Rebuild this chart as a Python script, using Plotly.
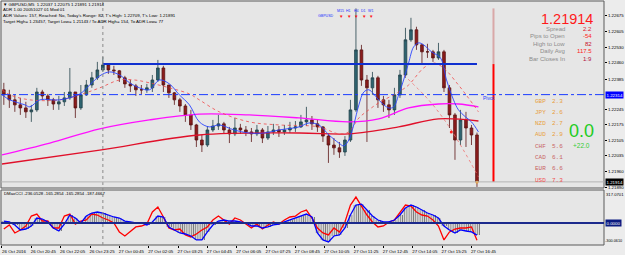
import plotly.graph_objects as go

W, H = 625, 255
ML, MR, MT, MB = 1, 19, 1, 10
PW, PH = W - ML - MR, H - MT - MB


def fx(px):
    return (px - ML) / PW


def fy(py):
    return (H - MB - py) / PH


# ---------------- data ----------------
symbol = "GBPUSD,M5"
last_bar = [1.22037, 1.22075, 1.21891, 1.21914]  # O H L C of the live bar
first_open = 1.22336

close = [1.22313, 1.22290, 1.22267, 1.22253, 1.22235, 1.22244, 1.22326, 1.22308, 1.22290, 1.22271,
         1.22281, 1.22299, 1.22326, 1.22253, 1.22313, 1.22358, 1.22391, 1.22427, 1.22450, 1.22427,
         1.22423, 1.22391, 1.22363, 1.22354, 1.22336, 1.22336, 1.22345, 1.22381, 1.22436, 1.22358,
         1.22322, 1.22290, 1.22262, 1.22221, 1.22175, 1.22106, 1.22083, 1.22152, 1.22170, 1.22180,
         1.22152, 1.22134, 1.22161, 1.22152, 1.22143, 1.22134, 1.22152, 1.22115, 1.22143, 1.22152,
         1.22143, 1.22152, 1.22161, 1.22166, 1.22189, 1.22198, 1.22180, 1.22166, 1.22124, 1.22083,
         1.22070, 1.22051, 1.22106, 1.22244, 1.22519, 1.22381, 1.22345, 1.22391, 1.22290, 1.22267,
         1.22244, 1.22313, 1.22404, 1.22565, 1.22611, 1.22542, 1.22510, 1.22510, 1.22482, 1.22510,
         1.22345, 1.22221, 1.22106, 1.22198, 1.22161, 1.22129, 1.21914]
high = [1.22368, 1.22336, 1.22313, 1.22299, 1.22281, 1.22267, 1.22345, 1.22336, 1.22317, 1.22299,
        1.22308, 1.22326, 1.22436, 1.22326, 1.22358, 1.22381, 1.22418, 1.22464, 1.22487, 1.22455,
        1.22446, 1.22427, 1.22400, 1.22381, 1.22363, 1.22358, 1.22363, 1.22404, 1.22473, 1.22446,
        1.22358, 1.22326, 1.22299, 1.22271, 1.22244, 1.22180, 1.22129, 1.22170, 1.22198, 1.22221,
        1.22189, 1.22166, 1.22207, 1.22180, 1.22170, 1.22161, 1.22175, 1.22161, 1.22170, 1.22180,
        1.22170, 1.22175, 1.22189, 1.22193, 1.22221, 1.22258, 1.22216, 1.22198, 1.22170, 1.22134,
        1.22115, 1.22097, 1.22124, 1.22290, 1.22709, 1.22542, 1.22404, 1.22418, 1.22400, 1.22308,
        1.22290, 1.22345, 1.22427, 1.22620, 1.22666, 1.22625, 1.22547, 1.22547, 1.22519, 1.22551,
        1.22519, 1.22358, 1.22230, 1.22244, 1.22235, 1.22175, 1.22140]
low = [1.22267, 1.22253, 1.22235, 1.22221, 1.22207, 1.22189, 1.22235, 1.22290, 1.22262, 1.22244,
       1.22244, 1.22262, 1.22290, 1.22207, 1.22244, 1.22308, 1.22345, 1.22381, 1.22418, 1.22409,
       1.22404, 1.22372, 1.22345, 1.22326, 1.22308, 1.22317, 1.22322, 1.22326, 1.22372, 1.22326,
       1.22299, 1.22267, 1.22235, 1.22189, 1.22152, 1.22074, 1.22051, 1.22074, 1.22143, 1.22152,
       1.22134, 1.22092, 1.22124, 1.22134, 1.22124, 1.22097, 1.22124, 1.22092, 1.22106, 1.22129,
       1.22120, 1.22129, 1.22138, 1.22143, 1.22161, 1.22170, 1.22152, 1.22143, 1.22097, 1.22001,
       1.22038, 1.22024, 1.22033, 1.22097, 1.22235, 1.22354, 1.22097, 1.22313, 1.22253, 1.22235,
       1.22207, 1.22221, 1.22299, 1.22391, 1.22556, 1.22519, 1.22459, 1.22482, 1.22464, 1.22473,
       1.22326, 1.22161, 1.22015, 1.22083, 1.22074, 1.22083, 1.21891]
bar_x = [3 * k + 1 for k in range(len(close))]          # bar index (M5 bars)
opens = [first_open] + close[:-1]

fast_ma_x = [0, 4.3, 12.5, 15.2, 20.7, 31.5, 42.4, 47.8, 53.3, 58.7, 64.1, 69.6, 75, 80.4, 85.9, 91.3,
             96.7, 102.2, 107.6, 113, 118.5, 126.6, 134.8, 142.9, 151.1, 162, 167.4, 172.8, 178.3,
             183.7, 186.4, 189.1, 191.8, 194.6, 197.3, 200, 202.7, 205.4, 210.9, 213.6, 216.3, 219,
             221.7, 224.5, 227.2, 229.9, 234.2, 239.1, 242.4, 246.2, 248.9, 252.7, 256, 259.8]
fast_ma = [1.22313, 1.22290, 1.22267, 1.22258, 1.22290, 1.22290, 1.22317, 1.22358, 1.22400, 1.22418,
           1.22404, 1.22368, 1.22345, 1.22336, 1.22381, 1.22363, 1.22313, 1.22267, 1.22189, 1.22166,
           1.22175, 1.22152, 1.22138, 1.22138, 1.22152, 1.22166, 1.22184, 1.22175, 1.22129, 1.22092,
           1.22079, 1.22106, 1.22175, 1.22267, 1.22326, 1.22336, 1.22317, 1.22290, 1.22253, 1.22258,
           1.22313, 1.22381, 1.22459, 1.22533, 1.22551, 1.22542, 1.22510, 1.22482, 1.22381, 1.22290,
           1.22244, 1.22212, 1.22189, 1.22143]

slow_ma_x = [0, 4.3, 15.2, 31.5, 42.4, 53.3, 64.1, 72.3, 80.4, 91.3, 102.2, 107.6, 118.5, 134.8, 151.1,
             172.8, 183.7, 189.1, 194.6, 200, 205.4, 216.3, 221.7, 229.9, 235.3, 240.8, 248.9, 254.3, 259.8]
slow_ma = [1.22336, 1.22313, 1.22290, 1.22290, 1.22313, 1.22345, 1.22381, 1.22381, 1.22368, 1.22345,
           1.22317, 1.22290, 1.22235, 1.22189, 1.22175, 1.22166, 1.22134, 1.22143, 1.22207, 1.22244,
           1.22276, 1.22326, 1.22358, 1.22436, 1.22459, 1.22436, 1.22358, 1.22299, 1.22235]

band_x = [219, 232.6, 242.4, 251.6, 259.8]
band = [1.22404, 1.22290, 1.22184, 1.22060, 1.21937]

ma_magenta_x = [0, 26.1, 53.3, 80.4, 107.6, 134.8, 162, 189.1, 205.4, 221.7, 238, 248.9, 259.8]
ma_magenta = [1.22038, 1.22092, 1.22157, 1.22198, 1.22225, 1.22221, 1.22207, 1.22189, 1.22203,
              1.22253, 1.22271, 1.22271, 1.22258]
ma_red_x = [0, 53.3, 107.6, 162, 189.1, 216.3, 238, 259.8]
ma_red = [1.21996, 1.22060, 1.22129, 1.22138, 1.22134, 1.22166, 1.22203, 1.22193]

day_open = 1.22454
day_high = 1.22709
day_low = 1.21891
pivot = 1.22314
midnight_bar = 55
cur_bar = 259
adr_bar = 268
signal_dot = [245, 1.22143]

cci_fast = [-82, -27, -136, -95, -41, 95, 122, 27, 27, -68,
            -68, 95, 122, -14, 27, 41, 122, 109, 68, 41,
            0, -122, -177, -109, -54, -41, -14, 150, 218, 82,
            -68, -95, -82, -163, -190, -150, -95, -54, 41, 95,
            41, -14, 68, 41, -14, -68, -14, -82, -27, 14,
            -14, 41, 82, 95, 150, 177, 68, -68, -136, -163,
            -68, -122, 14, 245, 354, 231, 109, 14, -54, -41,
            14, 41, 150, 245, 231, 150, 109, 95, 41, -41,
            -231, -122, -82, -68, -68, -54, -236]
cci_slow = [27, 14, -27, -95, -82, -41, 68, 54, 14, -68,
            -109, -14, 109, 68, 0, 95, 136, 150, 136, 109,
            82, 68, 27, 14, 0, 0, -27, 14, 95, 82,
            -54, -95, -136, -150, -177, -231, -231, -122, -27, 27,
            41, 27, 27, 14, 0, -41, -41, -68, -54, -27,
            -14, 14, 41, 68, 95, 122, 82, -136, -231, -258,
            -177, -163, -68, 109, 245, 258, 177, 95, 41, 14,
            14, 41, 109, 204, 245, 218, 177, 136, 109, 68,
            -41, -95, -136, -95, -109, -122, -165]
cci_title = "DMaxCCI -236.0528 -165.2854 -165.2854 -187.4667"
cci_top_label, cci_bottom_label = "317.0701", "-300.0610"

time_ticks = [0, 16, 32, 48, 64, 80, 96, 112, 128, 144, 160, 176, 192, 208, 224, 240, 256]
time_labels = ["26 Oct 2016", "26 Oct 20:45", "26 Oct 22:05", "26 Oct 23:25", "27 Oct 00:45",
               "27 Oct 02:05", "27 Oct 03:25", "27 Oct 04:45", "27 Oct 06:05", "27 Oct 07:25",
               "27 Oct 08:45", "27 Oct 10:05", "27 Oct 11:25", "27 Oct 12:45", "27 Oct 14:05",
               "27 Oct 15:25", "27 Oct 16:45"]
price_ticks = [1.22675, 1.22605, 1.22530, 1.22460, 1.22385, 1.22245, 1.22175, 1.22105,
               1.22035, 1.21960, 1.21890]

header_lines = [
    "ADR 1.00 20051027 01 Mod 01",
    "ADR Values: 157, Reached: No, Today's Range: 82, T's High: 1.22709, T's Low: 1.21891",
    "Target High= 1.23457, Target Low= 1.21143 / To ADR High= 154, To ADR Low= 77",
]
info_labels = ["Spread", "Pips to Open", "High to Low", "Daily Avg", "Bar Closes In"]
info_values = ["2.2", "-54", "82", "117.5", "1:9"]
currencies = ["GBP", "JPY", "NZD", "AUD", "CHF", "CAD", "EUR", "USD"]
strength = [2.3, 2.6, 2.7, 2.9, 5.6, 6.1, 6.6, 7.3]
tf_labels = ["M15", "H1", "H4", "D1", "W1"]
score_main, score_delta = "0.0", "+22.0"

# ---------------- figure ----------------
FONT = "Liberation Sans"
fig = go.Figure()

# CCI histogram (thin grey hatch)
fig.add_trace(go.Bar(
    x=bar_x, y=cci_slow, xaxis="x", yaxis="y2", width=3,
    marker=dict(color="rgba(0,0,0,0)", line_width=0,
                pattern=dict(shape="|", size=2.2, solidity=0.45, fgcolor="#7c7c7c",
                             bgcolor="rgba(0,0,0,0)", fillmode="replace")),
))
fig.add_trace(go.Scatter(x=bar_x, y=cci_fast, xaxis="x", yaxis="y2", mode="lines",
                         line=dict(color="#ff0000", width=1.3)))
fig.add_trace(go.Scatter(x=bar_x, y=cci_slow, xaxis="x", yaxis="y2", mode="lines",
                         line=dict(color="#0000ff", width=1.3)))

# moving averages
fig.add_trace(go.Scatter(x=ma_red_x, y=ma_red, mode="lines", line=dict(color="#e0102a", width=1.3, shape="spline")))
fig.add_trace(go.Scatter(x=ma_magenta_x, y=ma_magenta, mode="lines", line=dict(color="#ff10ff", width=1.3, shape="spline")))
fig.add_trace(go.Scatter(x=slow_ma_x, y=slow_ma, mode="lines", line=dict(color="#f04848", width=0.8, dash="dot", shape="spline")))
fig.add_trace(go.Scatter(x=band_x, y=band, mode="lines", line=dict(color="#f07070", width=0.8, dash="dot", shape="spline")))

# candles
fig.add_trace(go.Candlestick(
    x=bar_x, open=opens, high=high, low=low, close=close,
    increasing=dict(line=dict(color="#23434b", width=0.8), fillcolor="#2e6470"),
    decreasing=dict(line=dict(color="#5a1414", width=0.8), fillcolor="#8c1c1c"),
    whiskerwidth=0,
))
fig.add_trace(go.Scatter(x=fast_ma_x, y=fast_ma, mode="lines", line=dict(color="#2a44ff", width=0.9, shape="spline")))

# day-open level and daily range bar
fig.add_trace(go.Scatter(x=[midnight_bar, cur_bar], y=[day_open, day_open], mode="lines",
                         line=dict(color="#1030d0", width=2)))
fig.add_trace(go.Scatter(x=[adr_bar, adr_bar], y=[day_high, day_open], mode="lines",
                         line=dict(color="#d9a8a8", width=2)))
fig.add_trace(go.Scatter(x=[adr_bar, adr_bar], y=[day_open, last_bar[3]], mode="lines",
                         line=dict(color="#ff0000", width=2)))
fig.add_trace(go.Scatter(x=[signal_dot[0]], y=[signal_dot[1]], mode="markers",
                         marker=dict(color="#ff2020", size=3)))
fig.add_trace(go.Scatter(x=[cur_bar], y=[last_bar[3]], mode="markers",
                         marker=dict(color="#ffa020", size=3)))

shapes = [
    dict(type="rect", xref="x domain", yref="y domain", x0=0, x1=1, y0=0, y1=1,
         line=dict(color="#5a5a5a", width=1)),
    dict(type="rect", xref="x domain", yref="y2 domain", x0=0, x1=1, y0=0, y1=1,
         line=dict(color="#5a5a5a", width=1)),
    dict(type="line", xref="x", yref="paper", x0=midnight_bar, x1=midnight_bar, y0=0, y1=1,
         line=dict(color="#8a8a8a", width=1, dash="dot")),
    dict(type="line", xref="x domain", yref="y", x0=0, x1=1, y0=pivot, y1=pivot,
         line=dict(color="#1a3cff", width=1, dash="dashdot")),
    dict(type="line", xref="x domain", yref="y", x0=0, x1=1, y0=last_bar[3], y1=last_bar[3],
         line=dict(color="#b4b4b4", width=1)),
    dict(type="line", xref="x domain", yref="y2", x0=0, x1=1, y0=0, y1=0,
         line=dict(color="#1c2a8c", width=2)),
]

ann = []


def txt(text, px, py, size, color="#000000", anchor="left", family=FONT, yanchor="middle", **kw):
    ann.append(dict(text=text, x=fx(px), y=fy(py), xref="paper", yref="paper", showarrow=False,
                    xanchor=anchor, yanchor=yanchor, font=dict(size=size, color=color, family=family),
                    borderpad=0, **kw))


txt("▼ " + symbol + "  " + " ".join(f"{v:.5f}" for v in last_bar), 2, 4.5, 4.4)
for i, line in enumerate(header_lines):
    txt(line, 2, 10 + i * 5.6, 4.4)
txt(cci_title, 3, 194, 4.3)

txt(symbol.split(",")[0], 336, 16.5, 3.6, color="#2030ff", anchor="right")
for i, lab in enumerate(tf_labels):
    cx = [342, 350, 357.5, 365, 372][i]
    txt(lab, cx, 11, 3.6, color="#2030ff", anchor="center")
    txt("▼", cx, 16.5, 4.5, color="#ff1010", anchor="center")

ann.append(dict(text="Pivot", x=261.5, y=pivot, xref="x", yref="y", showarrow=False, xanchor="left",
                yanchor="top", yshift=1, font=dict(size=5, color="#1a3cff", family=FONT), borderpad=0))

txt(f"{last_bar[3]:.5f}", 596, 19, 14.5, color="#ff1a1a", anchor="right")
val_colors = ["#e0102a", "#ff2020", "#c8102a", "#ff2020", "#b01040"]
for i, (lab, val) in enumerate(zip(info_labels, info_values)):
    y = 29 + i * 7.5
    txt(lab, 568, y, 6, color="#8c8c8c", anchor="right")
    txt(val, 595, y, 6, color=val_colors[i], anchor="right")

cur_colors = ["#e8a040", "#e8a040", "#e8a040", "#e8a040", "#c86464", "#c86464", "#c86464", "#f05050"]
for i, (c, s) in enumerate(zip(currencies, strength)):
    y = 101 + i * 11.3
    txt(c, 536, y, 6, color=cur_colors[i], family="Liberation Mono")
    txt(f"{s:.1f}", 553, y, 6, color=cur_colors[i], family="Liberation Mono")
txt(score_main, 583.5, 131, 18, color="#22cc22", anchor="center")
txt(score_delta, 583.5, 145.5, 6.5, color="#33cc33", anchor="center")

for val, yref, bg, label in [(pivot, "y", "#0000ff", f"{pivot:.5f}"),
                             (last_bar[3], "y", "#000000", f"{last_bar[3]:.5f}"),
                             (0, "y2", "#0a1a80", "0.0000")]:
    ann.append(dict(text=label, x=1, y=val, xref="paper", yref=yref, showarrow=False,
                    xanchor="left", yanchor="middle", xshift=1, bgcolor=bg,
                    font=dict(size=4.4, color="#ffffff", family=FONT), borderpad=0.5))
ann.append(dict(text=cci_top_label, x=1, y=1, xref="paper", yref="y2 domain", showarrow=False,
                xanchor="left", yanchor="top", xshift=1, yshift=-1,
                font=dict(size=4.2, color="#000000", family=FONT), borderpad=0))
ann.append(dict(text=cci_bottom_label, x=1, y=0, xref="paper", yref="y2 domain", showarrow=False,
                xanchor="left", yanchor="bottom", xshift=0, yshift=1,
                font=dict(size=3.8, color="#000000", family=FONT), borderpad=0))

fig.update_layout(
    width=W, height=H,
    margin=dict(l=ML, r=MR, t=MT, b=MB, pad=0),
    paper_bgcolor="#ececec", plot_bgcolor="#e6e6e6",
    showlegend=False, hovermode=False, bargap=0,
    shapes=shapes, annotations=ann,
    xaxis=dict(range=[-0.54, 328.26], domain=[0, 1], anchor="y2", rangeslider=dict(visible=False),
               tickvals=time_ticks, ticktext=time_labels, ticks="outside", ticklen=2,
               tickcolor="#000000", tickfont=dict(size=4.4, color="#000000", family=FONT),
               ticklabelshift=12, ticklabelstandoff=0, showgrid=False, zeroline=False, showline=False),
    yaxis=dict(domain=[fy(188), 1], range=[1.21886, 1.22743], side="right", anchor="x",
               tickvals=price_ticks, ticktext=[f"{v:.5f}" for v in price_ticks],
               ticks="outside", ticklen=2, tickcolor="#000000",
               tickfont=dict(size=4.4, color="#000000", family=FONT),
               showgrid=False, zeroline=False),
    yaxis2=dict(domain=[0, fy(190)], range=[-300, 450], side="right", anchor="x",
                showticklabels=False, showgrid=False, zeroline=False),
)

fig.write_html("out.html")
